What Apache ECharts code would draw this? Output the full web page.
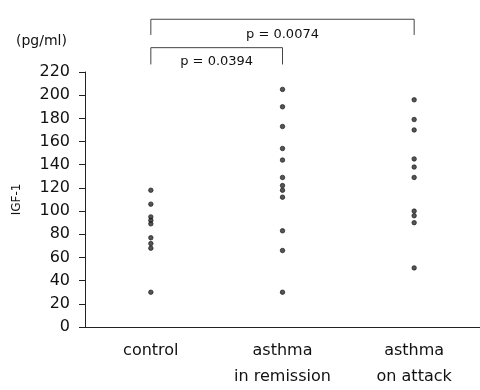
<!DOCTYPE html>
<html><head><meta charset="utf-8">
<script src="https://cdn.jsdelivr.net/npm/echarts@6/dist/echarts.min.js"></script>
<style>html,body{margin:0;padding:0;background:#fff}#c{width:480px;height:390px}</style>
</head><body><div id="c"></div>
<script>
const categories = ['control', 'asthma\nin remission', 'asthma\non attack'];
const controlValues = [118, 106, 95, 92, 89, 77, 72, 68, 30];
const remissionValues = [205, 190, 173, 154, 144, 129, 122, 118, 112, 83, 66, 30];
const attackValues = [196, 179, 170, 145, 138, 129, 100, 96, 90, 51];
const yTicks = [0, 20, 40, 60, 80, 100, 120, 140, 160, 180, 200, 220];
const pLabels = ['p = 0.0074', 'p = 0.0394'];
const font = 'DejaVu Sans';

const points = [];
[controlValues, remissionValues, attackValues].forEach((arr, i) => arr.forEach(v => points.push([i, v])));

const chart = echarts.init(document.getElementById('c'));
const bracketStyle = {color: '#444', width: 1};
function bracket(x1, x2, top, leg) {
  return {
    type: 'line', data: [[x1, leg], [x1, top], [x2, top], [x2, leg]],
    symbol: 'none', clip: false, silent: true, animation: false,
    lineStyle: bracketStyle, z: 1
  };
}
chart.setOption({
  animation: false,
  grid: {left: 85, right: -2, top: 72, bottom: 59},
  xAxis: {
    type: 'category', data: categories, boundaryGap: true,
    axisLine: {lineStyle: {color: '#222', width: 1}},
    axisTick: {alignWithLabel: true, length: 3, inside: true, lineStyle: {color: '#222'}},
    axisLabel: {color: '#111', fontFamily: font, fontSize: 16, margin: 11, lineHeight: 26}
  },
  yAxis: {
    type: 'value', min: 0, max: 220, interval: 20,
    name: 'IGF-1', nameLocation: 'middle', nameGap: 62, nameRotate: 90,
    nameTextStyle: {color: '#111', fontFamily: font, fontSize: 12},
    splitLine: {show: false},
    axisLine: {show: true, lineStyle: {color: '#222', width: 1}},
    axisTick: {show: true, length: 6, lineStyle: {color: '#222'}},
    axisLabel: {color: '#111', fontFamily: font, fontSize: 16, margin: 15,
      formatter: v => yTicks.includes(v) ? String(v) : ''}
  },
  series: [
    {
      type: 'scatter', data: points, symbol: 'circle', symbolSize: 4.5,
      itemStyle: {color: '#2a2a2a', borderColor: '#111', borderWidth: 0.8}, z: 3
    },
    bracket(0, 2, 265.5, 252),
    bracket(0, 1, 241, 226.5)
  ]
});

function addLabels() {
  const a = chart.convertToPixel({gridIndex: 0}, [0, 265.5]);
  const b = chart.convertToPixel({gridIndex: 0}, [2, 265.5]);
  const c = chart.convertToPixel({gridIndex: 0}, [1, 241]);
  chart.setOption({graphic: [
    {type: 'text', left: 16, top: 34, style: {text: '(pg/ml)', font: '14px "' + font + '"', fill: '#111'}},
    {type: 'text', x: (a[0] + b[0]) / 2, y: a[1] + 15,
      style: {text: pLabels[0], font: '13px "' + font + '"', fill: '#111', align: 'center', verticalAlign: 'middle'}},
    {type: 'text', x: (a[0] + c[0]) / 2, y: c[1] + 14,
      style: {text: pLabels[1], font: '13px "' + font + '"', fill: '#111', align: 'center', verticalAlign: 'middle'}}
  ]});
}
addLabels();
</script></body></html>
